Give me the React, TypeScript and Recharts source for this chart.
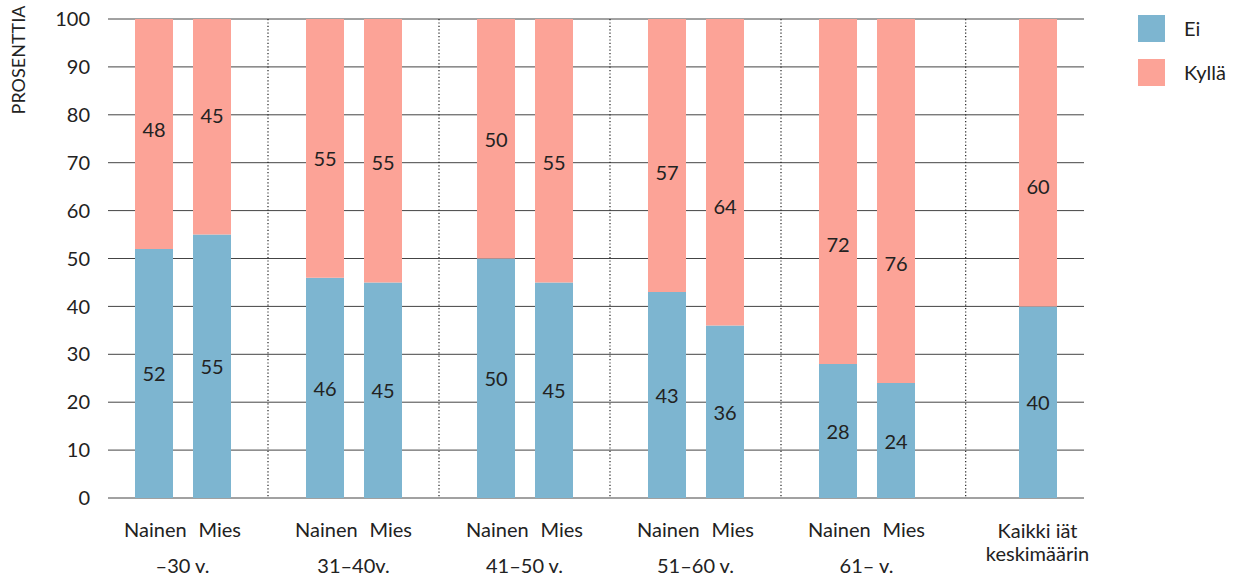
import React from 'react';
import { BarChart, Bar, XAxis, YAxis, CartesianGrid, Legend, LabelList } from 'recharts';

const groupLabels = ['–30 v.', '31–40v.', '41–50 v.', '51–60 v.', '61– v.', 'Kaikki'];
const kaikkiLines = ['Kaikki iät', 'keskimäärin'];
const naisetEi = [52, 46, 50, 43, 28, null];
const naisetKylla = [48, 55, 50, 57, 72, null];
const miehetEi = [55, 45, 45, 36, 24, null];
const miehetKylla = [45, 55, 55, 64, 76, null];
const kaikkiEi = [null, null, null, null, null, 40];
const kaikkiKylla = [null, null, null, null, null, 60];
const yTicks = [0, 10, 20, 30, 40, 50, 60, 70, 80, 90, 100];
const separators = [1, 2, 3, 4, 5.08];

const BLUE = '#7db5d0';
const PINK = '#fca397';
const TEXT = '#222';
const FONT = 'Lato, "Open Sans", sans-serif';

const data = groupLabels.map((g, i) => ({
  group: g,
  nEi: naisetEi[i],
  nKylla: naisetKylla[i],
  mEi: miehetEi[i],
  mKylla: miehetKylla[i],
  kEi: kaikkiEi[i],
  kKylla: kaikkiKylla[i],
}));

const makeLabel = (kind: 'ei' | 'kylla') => (props: any) => {
  const vb = props.viewBox ?? props;
  const x = vb.x ?? props.x;
  const y = vb.y ?? props.y;
  const width = vb.width ?? props.width;
  const height = vb.height ?? props.height;
  const value = props.value;
  if (value == null || x == null) return null;
  const cy = kind === 'ei' ? y + height / 2 : y + height - 120;
  return (
    <text x={x + width / 2} y={cy} textAnchor="middle" dominantBaseline="central" fill={TEXT} fontSize={20} fontFamily={FONT}>
      {value}
    </text>
  );
};

const XTick = (props: any) => {
  const { x, y, payload } = props;
  const v = payload.value;
  if (v === 'Kaikki') {
    return (
      <g>
        <text x={x} y={y + 40} textAnchor="middle" fill={TEXT} fontSize={20} fontFamily={FONT}>{kaikkiLines[0]}</text>
        <text x={x} y={y + 63} textAnchor="middle" fill={TEXT} fontSize={20} fontFamily={FONT}>{kaikkiLines[1]}</text>
      </g>
    );
  }
  return (
    <g>
      <text x={x} y={y + 39} textAnchor="middle" fill={TEXT} fontSize={20} fontFamily={FONT}>
        <tspan>Nainen</tspan>
        <tspan dx={12}>Mies</tspan>
      </text>
      <text x={x} y={y + 75} textAnchor="middle" fill={TEXT} fontSize={20} fontFamily={FONT}>{v}</text>
    </g>
  );
};

const YLabel = () => (
  <text x={25} y={60} transform="rotate(-90 25 60)" textAnchor="middle" fill={TEXT} fontSize={18} fontFamily={FONT}>
    PROSENTTIA
  </text>
);

const LegendContent = () => (
  <div style={{ fontFamily: FONT, fontSize: 20, color: TEXT }}>
    {[
      { c: BLUE, t: 'Ei' },
      { c: PINK, t: 'Kyllä' },
    ].map((it) => (
      <div key={it.t} style={{ display: 'flex', alignItems: 'center', height: 27, marginBottom: 17 }}>
        <span style={{ display: 'inline-block', width: 27, height: 27, background: it.c }} />
        <span style={{ marginLeft: 19, lineHeight: '27px' }}>{it.t}</span>
      </div>
    ))}
  </div>
);

const separatorGenerator = (props: any) => {
  const off = props.offset;
  const band = off.width / groupLabels.length;
  return separators.map((s) => off.left + s * band);
};

export default function App() {
  return (
    <div style={{ position: 'absolute', left: 0, top: 0, width: 1236, height: 578, background: '#fff', fontFamily: FONT }}>
      <BarChart
        width={1236}
        height={578}
        data={data}
        margin={{ top: 19, right: 113, bottom: 20, left: 0 }}
        barGap={-9}
      >
        <CartesianGrid x={108} width={976} vertical={false} stroke="#444" strokeWidth={1} />
        <CartesianGrid
          horizontal={false}
          verticalCoordinatesGenerator={separatorGenerator}
          stroke="#222"
          strokeWidth={1.2}
          strokeDasharray="1.2 2.2"
        />
        <XAxis
          dataKey="group"
          height={60}
          axisLine={false}
          tickLine={false}
          tickSize={0}
          tickMargin={0}
          interval={0}
          tick={<XTick />}
        />
        <YAxis
          width={97}
          domain={[0, 100]}
          ticks={yTicks}
          allowDataOverflow
          axisLine={false}
          tickLine={false}
          tickSize={0}
          tickMargin={7}
          tick={{ fill: TEXT, fontSize: 20, fontFamily: FONT }}
          label={<YLabel />}
        />
        <Legend
          layout="vertical"
          align="center"
          verticalAlign="middle"
          wrapperStyle={{ left: 1138, top: 15, width: 98, height: 80 }}
          content={<LegendContent />}
        />
        <Bar dataKey="nEi" name="Ei" stackId="n" fill={BLUE} barSize={38} isAnimationActive={false}>
          <LabelList dataKey="nEi" content={makeLabel('ei')} />
        </Bar>
        <Bar dataKey="nKylla" name="Kyllä" stackId="n" fill={PINK} barSize={38} isAnimationActive={false}>
          <LabelList dataKey="nKylla" content={makeLabel('kylla')} />
        </Bar>
        <Bar dataKey="kEi" stackId="k" fill={BLUE} barSize={38} isAnimationActive={false}>
          <LabelList dataKey="kEi" content={makeLabel('ei')} />
        </Bar>
        <Bar dataKey="kKylla" stackId="k" fill={PINK} barSize={38} isAnimationActive={false}>
          <LabelList dataKey="kKylla" content={makeLabel('kylla')} />
        </Bar>
        <Bar dataKey="mEi" stackId="m" fill={BLUE} barSize={38} isAnimationActive={false}>
          <LabelList dataKey="mEi" content={makeLabel('ei')} />
        </Bar>
        <Bar dataKey="mKylla" stackId="m" fill={PINK} barSize={38} isAnimationActive={false}>
          <LabelList dataKey="mKylla" content={makeLabel('kylla')} />
        </Bar>
      </BarChart>
    </div>
  );
}
